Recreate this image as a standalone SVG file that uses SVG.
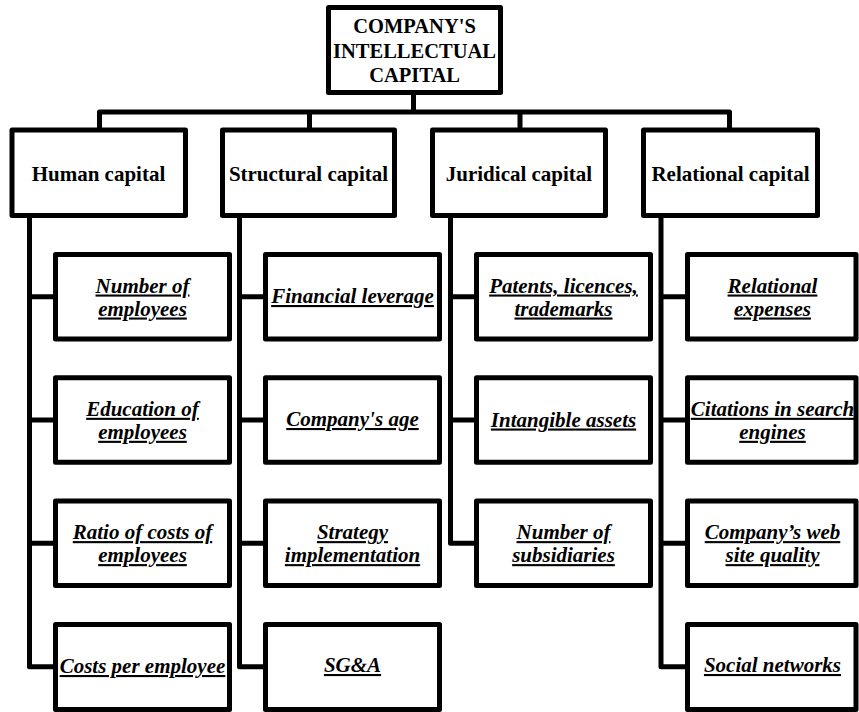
<svg xmlns="http://www.w3.org/2000/svg" width="859" height="712" viewBox="0 0 859 712">
<style>
.box{fill:#fff;stroke:#000;stroke-width:5;stroke-linejoin:round}
.ln{fill:none;stroke:#000;stroke-width:5;stroke-linejoin:round;stroke-linecap:butt}
text{font-family:"Liberation Serif","Times New Roman",serif;font-weight:bold;fill:#000;text-anchor:middle}
.t1{font-size:20.5px}
.t2{font-size:21px}
.t3{font-size:21px;font-style:italic;text-decoration:underline;text-decoration-thickness:2px}
</style>
<rect width="859" height="712" fill="#fff"/>
<g id="connectors">
<path class="ln" d="M413.5 92.5V112M99.5 130V112H729.5V130M309.5 112V130M520 112V130"/>
<path class="ln" d="M29.5 215.5V666.7H55.5M29.5 296.7H55.5M29.5 420H55.5M29.5 543.3H55.5"/>
<path class="ln" d="M239.5 215.5V666.7H265.5M239.5 296.7H265.5M239.5 420H265.5M239.5 543.3H265.5"/>
<path class="ln" d="M450.5 215.5V543.3H476.5M450.5 296.7H476.5M450.5 420H476.5"/>
<path class="ln" d="M661 215.5V666.7H687.5M661 296.7H687.5M661 420H687.5M661 543.3H687.5"/>
</g>
<g id="root"><rect class="box" x="328.5" y="7.5" width="172" height="85"/>
<text class="t1" x="414.5" y="33">COMPANY'S</text><text class="t1" x="414.5" y="57.5">INTELLECTUAL</text><text class="t1" x="414.5" y="82">CAPITAL</text></g>
<g id="human"><rect class="box" x="12" y="130" width="173.5" height="85.5"/><text class="t2" x="98.5" y="181">Human capital</text></g>
<g id="structural"><rect class="box" x="222.5" y="130" width="172" height="85.5"/><text class="t2" x="308.5" y="181">Structural capital</text></g>
<g id="juridical"><rect class="box" x="432.5" y="130" width="173" height="85.5"/><text class="t2" x="519" y="181">Juridical capital</text></g>
<g id="relational"><rect class="box" x="643.5" y="130" width="174" height="85.5"/><text class="t2" x="730.5" y="181">Relational capital</text></g>

<g id="h1"><rect class="box" x="55.5" y="254.5" width="174" height="84.5"/><text class="t3" x="142.5" y="292.5">Number of</text><text class="t3" x="142.5" y="315.5">employees</text></g>
<g id="h2"><rect class="box" x="55.5" y="377.8" width="174" height="84.5"/><text class="t3" x="142.5" y="415.8">Education of</text><text class="t3" x="142.5" y="438.8">employees</text></g>
<g id="h3"><rect class="box" x="55.5" y="501.1" width="174" height="84.5"/><text class="t3" x="142.5" y="539.1">Ratio of costs of</text><text class="t3" x="142.5" y="562.1">employees</text></g>
<g id="h4"><rect class="box" x="55.5" y="624.4" width="174" height="85"/><text class="t3" x="142.5" y="673">Costs per employee</text></g>

<g id="s1"><rect class="box" x="265.5" y="254.5" width="174" height="84.5"/><text class="t3" x="352.5" y="303">Financial leverage</text></g>
<g id="s2"><rect class="box" x="265.5" y="377.8" width="174" height="84.5"/><text class="t3" x="352.5" y="426">Company's age</text></g>
<g id="s3"><rect class="box" x="265.5" y="501.1" width="174" height="84.5"/><text class="t3" x="352.5" y="539.1">Strategy</text><text class="t3" x="352.5" y="562.1">implementation</text></g>
<g id="s4"><rect class="box" x="265.5" y="624.4" width="174" height="85"/><text class="t3" x="352.5" y="672">SG&amp;A</text></g>

<g id="j1"><rect class="box" x="476.5" y="254.5" width="174" height="84.5"/><text class="t3" x="563.5" y="292.5">Patents, licences,</text><text class="t3" x="563.5" y="315.5">trademarks</text></g>
<g id="j2"><rect class="box" x="476.5" y="377.8" width="174" height="84.5"/><text class="t3" x="563.5" y="426.5">Intangible assets</text></g>
<g id="j3"><rect class="box" x="476.5" y="501.1" width="174" height="84.5"/><text class="t3" x="563.5" y="539.1">Number of</text><text class="t3" x="563.5" y="562.1">subsidiaries</text></g>

<g id="r1"><rect class="box" x="687.5" y="254.5" width="168.5" height="84.5"/><text class="t3" x="772.5" y="292.5">Relational</text><text class="t3" x="772.5" y="315.5">expenses</text></g>
<g id="r2"><rect class="box" x="687.5" y="377.8" width="168.5" height="84.5"/><text class="t3" x="772.5" y="415.8">Citations in search</text><text class="t3" x="772.5" y="438.8">engines</text></g>
<g id="r3"><rect class="box" x="687.5" y="501.1" width="168.5" height="84.5"/><text class="t3" x="772.5" y="539.1">Company’s web</text><text class="t3" x="772.5" y="562.1">site quality</text></g>
<g id="r4"><rect class="box" x="687.5" y="624.4" width="168.5" height="85"/><text class="t3" x="772.5" y="672">Social networks</text></g>
</svg>
